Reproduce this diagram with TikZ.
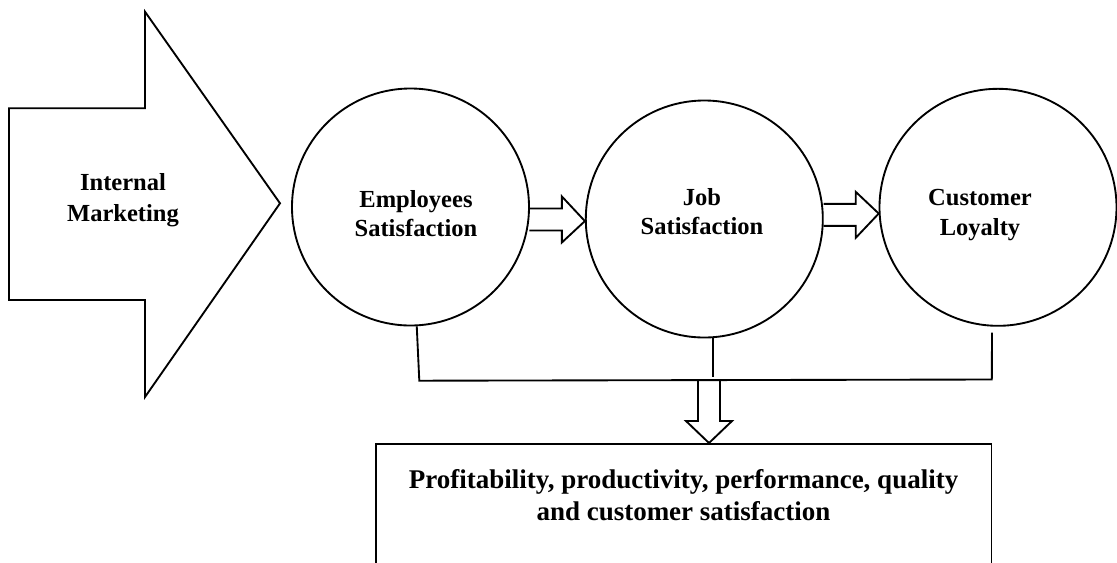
\documentclass[tikz,border=0pt]{standalone}
\usepackage{fontspec}
\setmainfont{Liberation Serif}
\usetikzlibrary{calc}
% hollow block arrows between two points
\newcommand{\fatarrowright}[2]{%
  \draw[fat] let \p1=(#1), \p2=(#2) in
    (\x1,\y1+8.25pt) -- (\x2-17.25pt,\y1+8.25pt) -- (\x2-17.25pt,\y1+17.25pt)
    -- (\x2,\y2) -- (\x2-17.25pt,\y1-17.25pt) -- (\x2-17.25pt,\y1-8.25pt) -- (\x1,\y1-8.25pt);}
\newcommand{\fatarrowdown}[2]{%
  \draw[fat] let \p1=(#1), \p2=(#2) in
    (\x1-8.25pt,\y1) -- (\x1-8.25pt,\y2+16.5pt) -- (\x1-17.25pt,\y2+16.5pt)
    -- (\x2,\y2) -- (\x1+17.25pt,\y2+16.5pt) -- (\x1+8.25pt,\y2+16.5pt) -- (\x1+8.25pt,\y1);}
\begin{document}
\begin{tikzpicture}[x=0.75pt,y=-0.75pt,
  line/.style={line width=1.4pt},
  fat/.style={line width=1.4pt,line join=miter},
  bubble/.style={circle,draw,line width=1.4pt,minimum size=177.75pt,inner sep=0pt},
  lbl/.style={align=center,inner sep=0pt,font=\fontsize{18.4}{22}\selectfont\bfseries}]
\clip (0,0) rectangle (1117,562);
\fill[white] (0,0) rectangle (1117,562);
%big arrow
\draw[fat] (9,108.3)--(145,108.3)--(145,11.7)--(280,203.3)--(145,397)--(145,300)--(9,300)--cycle;
\node[lbl,font=\fontsize{18.4}{23.25}\selectfont\bfseries] (im) at (123,200.4) {Internal\\Marketing};
%circles
\node[bubble] (es) at (410.5,207) {};
\node[bubble] (js) at (704.3,219) {};
\node[bubble] (cl) at (998,207.3) {};
\node[lbl] (estxt) at (416,213.7) {Employees\\Satisfaction};
\node[lbl] (jstxt) at (702,211.7) {Job\\Satisfaction};
\node[lbl] (cltxt) at (980,215) {Customer\\Loyalty};
\fatarrowright{es.-6.9}{js.181}
\fatarrowright{js.2.6}{cl.183}
%outcome box
\node[draw,line width=1.4pt,anchor=north,minimum width=461.6pt,minimum height=112.5pt,inner sep=0pt]
  (out) at (683.75,443) {};
\node[lbl,font=\fontsize{20.25}{24}\selectfont\bfseries] (outtxt) at (683.5,495)
  {Profitability, productivity, performance, quality\\and customer satisfaction};
%
\coordinate (bl) at (419.3,380.7);
\coordinate (br) at (991.8,379.5);
\coordinate (bm) at (709,380.2);
\draw[line] (es.-87.5)--(bl)--(br)--([xshift=-4.5pt,yshift=-4.5pt]cl.south);
\draw[line] ([xshift=6.75pt]js.south)--++(0,38.4);
\fatarrowdown{bm}{bm |- out.north}
\end{tikzpicture}
\end{document}
